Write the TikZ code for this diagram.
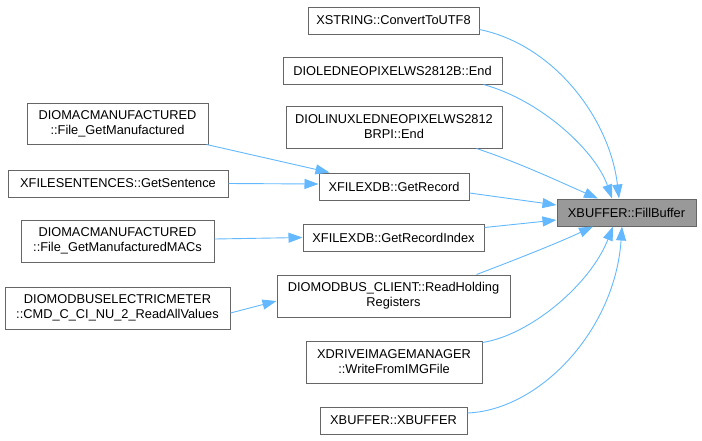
\documentclass[tikz,border=0pt]{standalone}
\usepackage{fontspec}
\setmainfont{Liberation Sans}
\usetikzlibrary{arrows.meta}
\definecolor{edgeblue}{HTML}{63B8FF}
\definecolor{boxgrey}{HTML}{666666}
\definecolor{fbfill}{HTML}{999999}
\begin{document}
\begin{tikzpicture}[x=1pt,y=-1pt,
  box/.style={draw=boxgrey, line width=1pt, fill=white, inner sep=0pt, align=center,
    font=\fontsize{12.8}{15}\selectfont, text=black},
  one/.style={box, minimum height=27pt},
  two/.style={box, minimum height=42pt},
  cur/.style={box, minimum height=27pt, fill=fbfill},
  link/.style={draw=edgeblue, line width=0.9pt, -{Triangle[length=14pt,width=10pt]}}
]
\useasboundingbox (0,0) rectangle (702,440);
\node[cur, minimum width=139pt] (fb) at (626.5,212.5) {XBUFFER::FillBuffer};
\node[one, minimum width=171pt] (xs) at (393.5,20.5) {XSTRING::ConvertToUTF8};
\node[one, minimum width=219pt] (led) at (392.5,70.5) {DIOLEDNEOPIXELWS2812B::End};
\node[two, minimum width=216pt] (linux) at (394,127) {DIOLINUXLEDNEOPIXELWS2812\\BRPI::End};
\node[one, minimum width=150pt] (gr) at (394,186.5) {XFILEXDB::GetRecord};
\node[one, minimum width=181pt] (gri) at (393.5,237.5) {XFILEXDB::GetRecordIndex};
\node[two, minimum width=233pt] (rh) at (393.5,296) {DIOMODBUS\_CLIENT::ReadHolding\\Registers};
\node[two, minimum width=176pt] (xd) at (394,362) {XDRIVEIMAGEMANAGER\\::WriteFromIMGFile};
\node[one, minimum width=147pt] (xb) at (393.5,420.5) {XBUFFER::XBUFFER};
\node[two, minimum width=181pt, minimum height=41pt] (mac1) at (117.5,123.5) {DIOMACMANUFACTURED\\::File\_GetManufactured};
\node[one, minimum width=220pt] (sent) at (118,183.5) {XFILESENTENCES::GetSentence};
\node[two, minimum width=193pt] (mac2) at (117.5,241) {DIOMACMANUFACTURED\\::File\_GetManufacturedMACs};
\node[two, minimum width=225pt] (elec) at (117.5,308) {DIOMODBUSELECTRICMETER\\::CMD\_C\_CI\_NU\_2\_ReadAllValues};

\draw[link] ([yshift=5pt]xs.south east) .. controls (555,45) and (610,120) .. ([xshift=-7.5pt]fb.north);
\draw[link] ([xshift=-19pt]led.south east) .. controls (540,100) and (595,150) .. ([xshift=-14.5pt]fb.north);
\draw[link] ([xshift=-26pt]linux.south east) .. controls (520,163) and (560,182) .. ([xshift=-28.5pt]fb.north);
\draw[link] ([yshift=-6.5pt]gr.east) -- ([yshift=7.5pt]fb.west);
\draw[link] ([yshift=10pt]gri.east) -- ([yshift=-7.5pt]fb.west);
\draw[link] ([xshift=-34pt]rh.north east) .. controls (520,258) and (560,242) .. ([xshift=-33.5pt]fb.south);
\draw[link] ([yshift=-2pt]xd.north east) .. controls (530,335) and (590,285) .. ([xshift=-13.5pt]fb.south);
\draw[link] ([yshift=7.5pt]xb.east) .. controls (540,410) and (615,330) .. ([xshift=-4.5pt]fb.south);
\draw[link] ([xshift=-2pt]mac1.south east) -- ([xshift=11pt]gr.north west);
\draw[link] (sent.east) -- ([yshift=2.5pt]gr.west);
\draw[link] ([yshift=2pt]mac2.east) -- (gri.west);
\draw[link] ([yshift=-5pt]elec.east) -- ([yshift=-5pt]rh.west);
\end{tikzpicture}
\end{document}
